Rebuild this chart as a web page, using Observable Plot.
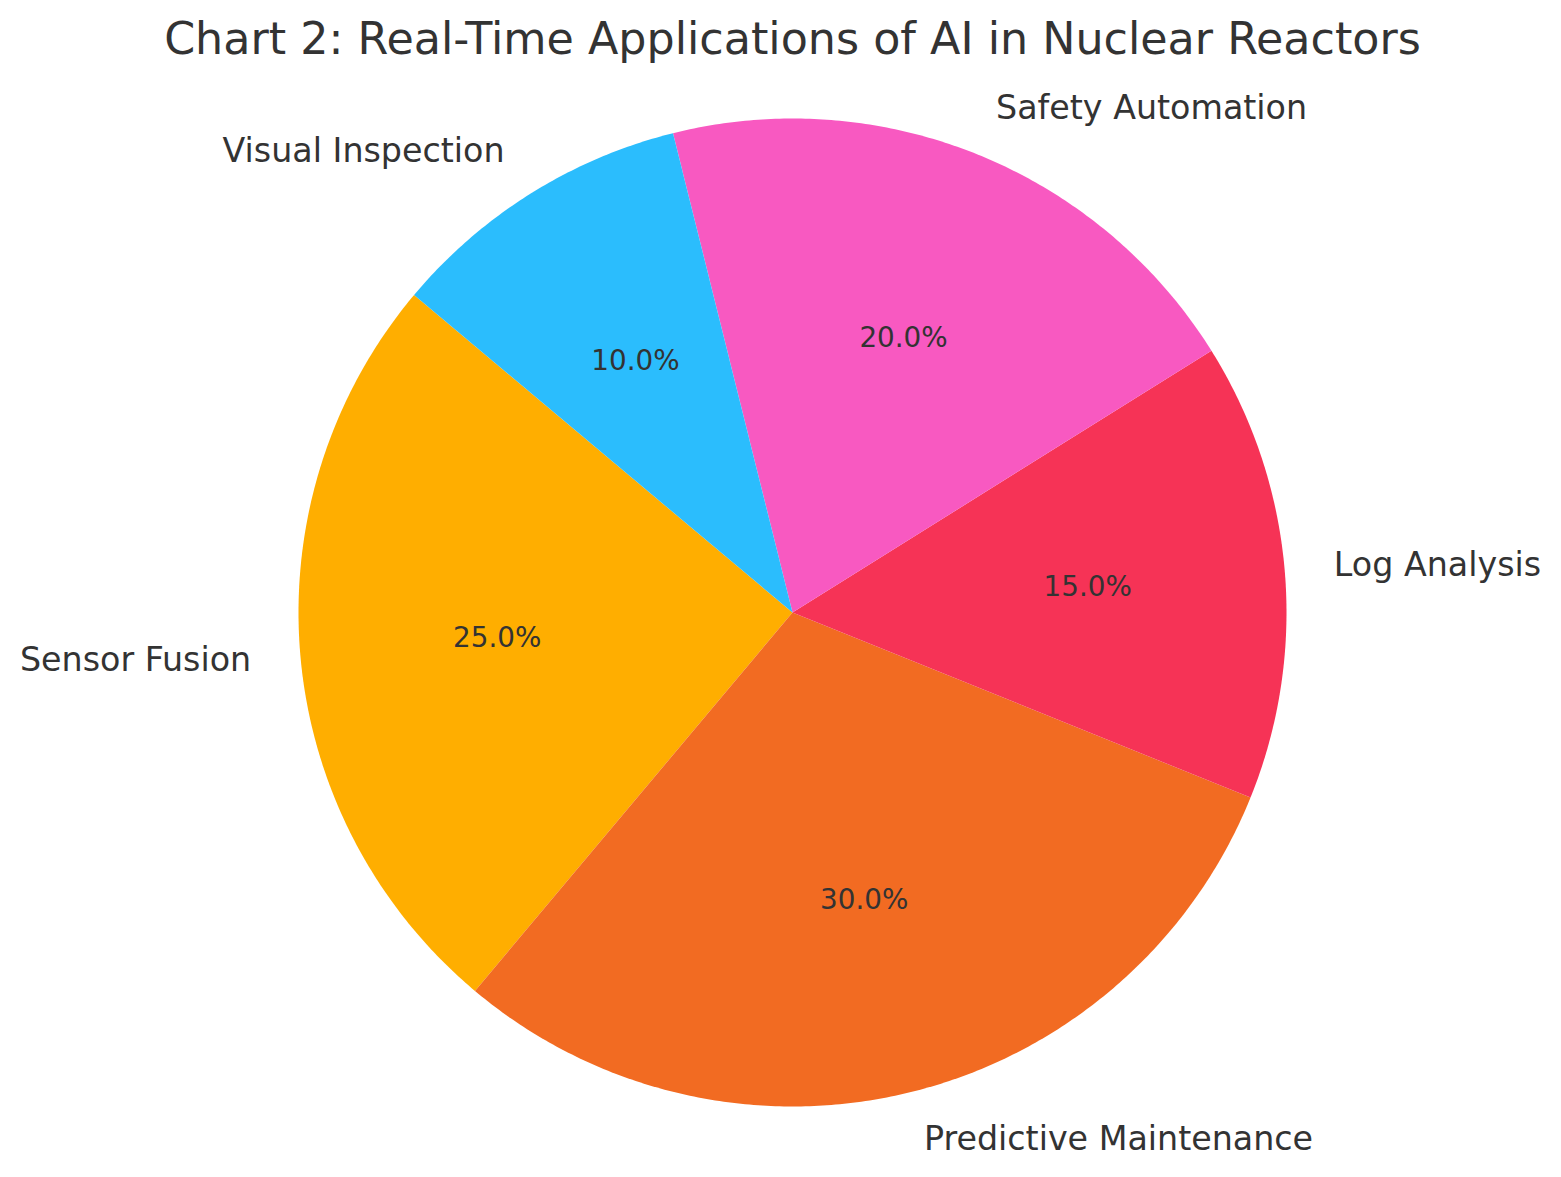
<!DOCTYPE html>
<html>
<head>
<meta charset="utf-8">
<script src="https://cdn.jsdelivr.net/npm/d3@7"></script>
<script src="https://cdn.jsdelivr.net/npm/@observablehq/plot@0.6"></script>
<style>
  html, body { margin: 0; padding: 0; background: #fff; }
  #chart svg { display: block; }
</style>
</head>
<body>
<div id="chart"></div>
<script>
const title = "Chart 2: Real-Time Applications of AI in Nuclear Reactors";
const categories = ["Sensor Fusion", "Predictive Maintenance", "Log Analysis", "Safety Automation", "Visual Inspection"];
const shares = [25, 30, 15, 20, 10];
const colors = ["#FFAE00", "#F26B22", "#F63356", "#F859C1", "#2BBDFD"];
const startAngle = 140; // degrees, counterclockwise from +x

const W = 1561, H = 1177;
const cx = 792, cy = 612, R = 494;

const total = d3.sum(shares);
let acc = startAngle;
const slices = categories.map((name, i) => {
  const a0 = acc;
  const a1 = acc + shares[i] / total * 360;
  acc = a1;
  return {name, value: shares[i], a0, a1, mid: (a0 + a1) / 2, color: colors[i]};
});

const outline = [];
for (const s of slices) {
  outline.push({name: s.name, x: 0, y: 0});
  const n = Math.max(2, Math.ceil((s.a1 - s.a0) * 2));
  for (let k = 0; k <= n; k++) {
    const a = (s.a0 + (s.a1 - s.a0) * k / n) * Math.PI / 180;
    outline.push({name: s.name, x: Math.cos(a), y: Math.sin(a)});
  }
  outline.push({name: s.name, x: 0, y: 0});
}

const labels = slices.map(s => {
  const a = s.mid * Math.PI / 180;
  const x = 1.1 * Math.cos(a);
  return {name: s.name, x, y: 1.1 * Math.sin(a), anchor: x > 0 ? "start" : "end"};
});
const pcts = slices.map(s => {
  const a = s.mid * Math.PI / 180;
  return {text: (s.value / total * 100).toFixed(1) + "%", x: 0.6 * Math.cos(a), y: 0.6 * Math.sin(a)};
});

const xDomain = [-cx / R, (W - cx) / R];
const yDomain = [-(H - cy) / R, cy / R];

const chart = Plot.plot({
  width: W,
  height: H,
  margin: 0,
  style: {fontFamily: "DejaVu Sans", background: "#fff"},
  x: {domain: xDomain, axis: null},
  y: {domain: yDomain, axis: null},
  color: {domain: categories, range: colors},
  marks: [
    Plot.line(outline, {x: "x", y: "y", z: "name", fill: "name", stroke: null, curve: "linear"}),
    Plot.text(labels.filter(d => d.anchor === "start"), {x: "x", y: "y", text: "name", textAnchor: "start", fontSize: 33.3, fill: "#333", lineAnchor: "middle"}),
    Plot.text(labels.filter(d => d.anchor === "end"), {x: "x", y: "y", text: "name", textAnchor: "end", fontSize: 33.3, fill: "#333", lineAnchor: "middle"}),
    Plot.text(pcts, {x: "x", y: "y", text: "text", fontSize: 27.8, fill: "#333", lineAnchor: "middle"}),
    Plot.text([title], {frameAnchor: "top", dy: 39, dx: 11.5, text: d => d, fontSize: 44.4, fill: "#333", lineAnchor: "middle"})
  ]
});
document.getElementById("chart").appendChild(chart);
</script>
</body>
</html>
